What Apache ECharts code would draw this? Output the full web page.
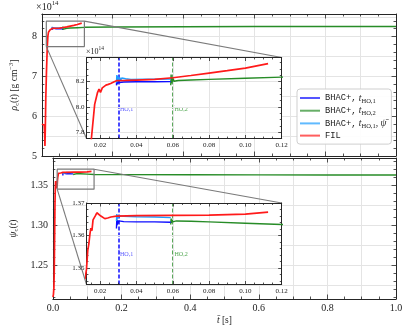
<!DOCTYPE html>
<html>
<head>
<meta charset="utf-8">
<script src="https://cdn.jsdelivr.net/npm/echarts@6/dist/echarts.min.js"></script>
<style>
html, body { margin: 0; padding: 0; background: #fff; }
#chart { width: 407px; height: 328px; }
</style>
</head>
<body>
<div id="chart"></div>
<script>
// ---------- data ----------
// FIL: central density (x1e14 g/cm^3) and psi_c
const filRhoT = [0, 0.004, 0.0065, 0.0078, 0.0086, 0.0095, 0.011, 0.013, 0.0152, 0.017, 0.0185, 0.0194, 0.0202, 0.0212, 0.0222, 0.0232, 0.0245, 0.0258, 0.0272, 0.029, 0.034, 0.04, 0.05, 0.06, 0.07, 0.08, 0.09, 0.10, 0.1125];
const filRho  = [5.80, 5.80, 5.78, 5.55, 5.25, 5.62, 6.45, 7.15, 7.75, 8.02, 8.11, 8.14, 8.115, 8.15, 8.14, 8.172, 8.178, 8.185, 8.195, 8.207, 8.209, 8.212, 8.217, 8.23, 8.248, 8.267, 8.286, 8.306, 8.342];
const filPsiT = [0, 0.0015, 0.003, 0.004, 0.005, 0.006, 0.007, 0.008, 0.0092, 0.0105, 0.0118, 0.0125, 0.0132, 0.0138, 0.0144, 0.0149, 0.0155, 0.0161, 0.0167, 0.0175, 0.0182, 0.019, 0.0204, 0.0215, 0.0226, 0.0242, 0.0259, 0.029, 0.04, 0.06, 0.08, 0.1, 0.1125];
const filPsi  = [1.210, 1.213, 1.222, 1.245, 1.285, 1.325, 1.347, 1.355, 1.352, 1.346, 1.347, 1.3497, 1.3555, 1.3575, 1.3605, 1.3623, 1.3615, 1.3648, 1.3654, 1.3662, 1.3670, 1.3667, 1.3660, 1.3655, 1.3652, 1.3654, 1.3657, 1.3660, 1.3661, 1.3662, 1.3663, 1.3666, 1.3672];

// BHAC+, t_HO,1
const b1RhoT = [0.029, 0.0292, 0.0294, 0.0296, 0.0299, 0.0302, 0.0307, 0.0315, 0.033, 0.04, 0.05, 0.0589];
const b1Rho  = [8.170, 8.228, 8.178, 8.215, 8.186, 8.208, 8.192, 8.202, 8.196, 8.198, 8.198, 8.199];
const b1PsiT = [0.029, 0.0292, 0.0294, 0.0296, 0.0299, 0.0303, 0.031, 0.033, 0.04, 0.05, 0.0589];
const b1Psi  = [1.3622, 1.3650, 1.3632, 1.3647, 1.3637, 1.3645, 1.3641, 1.3643, 1.3642, 1.3642, 1.3641];

// BHAC+, t_HO,1, psi-bar
const cyRhoT = [0.029, 0.0292, 0.0294, 0.0296, 0.0298, 0.0301, 0.0304, 0.0308, 0.0313, 0.0319, 0.0327, 0.034, 0.037, 0.045, 0.0589];
const cyRho  = [8.19, 8.252, 8.196, 8.245, 8.202, 8.238, 8.206, 8.232, 8.21, 8.228, 8.213, 8.222, 8.217, 8.218, 8.219];
const cyPsiT = [0.029, 0.0292, 0.0294, 0.0296, 0.0299, 0.0303, 0.031, 0.033, 0.04, 0.05, 0.0589];
const cyPsi  = [1.3645, 1.3666, 1.3651, 1.3663, 1.3654, 1.3661, 1.3656, 1.3659, 1.3658, 1.3657, 1.3655];

// BHAC+, t_HO,2
const b2RhoT = [0.0589, 0.0591, 0.0593, 0.0595, 0.0598, 0.0602, 0.0607, 0.0615, 0.063, 0.07, 0.08, 0.1, 0.12, 0.2, 0.4, 0.6, 0.8, 1.0];
const b2Rho  = [8.17, 8.255, 8.185, 8.235, 8.196, 8.224, 8.202, 8.215, 8.208, 8.212, 8.217, 8.226, 8.235, 8.242, 8.25, 8.255, 8.256, 8.257];
const b2PsiT = [0.0589, 0.0591, 0.0593, 0.0596, 0.06, 0.0605, 0.062, 0.07, 0.08, 0.1, 0.12, 0.2, 0.4, 0.6, 0.8, 1.0];
const b2Psi  = [1.3634, 1.3652, 1.3639, 1.3649, 1.3642, 1.3647, 1.3645, 1.3644, 1.3642, 1.3638, 1.3634, 1.3632, 1.3630, 1.3629, 1.3628, 1.3627];

// handover times (dashed lines in the insets)
const T_HO1 = 0.029, T_HO2 = 0.059;

// axis ranges [min, max, major step, minor divisions, grid step]
const mainX  = [0, 1, 0.2, 4, 0.1];
const rhoY   = [5, 8.57, 1, 5, 0.5];
const psiY   = [1.2075, 1.384, 0.05, 5, 0.025];
const insX   = [0.0125, 0.12, 0.02, 4, 0.02];
const insRho = [7.75, 8.39, 0.2, 4, 0.2];
const insPsi = [1.345, 1.37, 0.01, 5, 0.01];

// ---------- styling ----------
const SERIF = 'Liberation Serif', MONO = 'Liberation Mono';
const C = { blue: '#0d0dff', green: '#278c27', cyan: '#1c9dff', red: '#ff1a1a', frame: '#262626', grid: '#e4e4e4', box: '#7a7a7a' };

function rich(fs) {
  const lh = Math.round(fs * 1.35);
  const s = +(fs * 0.68).toFixed(1);
  return {
    rm: { fontFamily: SERIF, fontSize: fs, lineHeight: lh, verticalAlign: 'middle' },
    it: { fontFamily: SERIF, fontStyle: 'italic', fontSize: fs, lineHeight: lh, verticalAlign: 'middle' },
    tt: { fontFamily: MONO, fontSize: fs * 0.92, lineHeight: lh, verticalAlign: 'middle' },
    sub: { fontFamily: SERIF, fontSize: s, lineHeight: s, verticalAlign: 'bottom' },
    sup: { fontFamily: SERIF, fontSize: s, lineHeight: s, verticalAlign: 'top' }
  };
}

const isMult = (v, s) => Math.abs(v / s - Math.round(v / s)) < 1e-9;
const stepFor = (min, s) => isMult(min, s) ? { interval: s } : { minInterval: s, maxInterval: s };

const xAxes = [], yAxes = [];
// adds labelled axis + mirrored axis + grid-line axis; returns index of labelled one
function addAxes(list, kind, grid, r, o) {
  const [min, max, step, minor, gstep] = r;
  const common = { type: 'value', gridIndex: grid, min: min, max: max };
  const tickLine = { color: C.frame, width: 0.8 };
  const idx = list.length;
  const pos = kind === 'x' ? ['bottom', 'top'] : ['left', 'right'];
  [0, 1].forEach(function (k) {
    list.push(Object.assign({}, common, stepFor(min, step), {
      position: pos[k], z: o.z + 1,
      axisLine: { show: true, onZero: false, lineStyle: { color: C.frame, width: 1 } },
      axisTick: { show: true, inside: true, length: o.tick, lineStyle: tickLine },
      minorTick: { show: true, splitNumber: minor, length: o.tick * 0.55, lineStyle: tickLine },
      splitLine: { show: false },
      axisLabel: {
        show: k === 0 && o.labels !== false, margin: o.margin, fontFamily: SERIF, fontSize: o.font, color: '#222',
        formatter: function (v) { return v.toFixed(o.dec); },
        showMinLabel: !!o.showMin, showMaxLabel: !!o.showMax
      },
      name: k === 0 ? (o.name || '') : '',
      nameLocation: 'middle', nameGap: o.nameGap || 0,
      nameTextStyle: { color: '#222', rich: rich(o.nameFont || 10) }
    }));
  });
  list.push(Object.assign({}, common, stepFor(min, gstep), {
    position: pos[0], z: o.z,
    axisLine: { show: false }, axisTick: { show: false }, axisLabel: { show: false },
    splitLine: { show: true, lineStyle: { color: C.grid, width: 1 } }
  }));
  return idx;
}

const grids = [
  { left: 36, top: 14, width: 360, height: 142 },
  { left: 36, top: 158, width: 360, height: 141 },
  { left: 86.5, top: 57.5, width: 195.2, height: 81, show: true, backgroundColor: '#fff', borderWidth: 0, z: 5 },
  { left: 86.5, top: 203, width: 195.2, height: 81.5, show: true, backgroundColor: '#fff', borderWidth: 0, z: 5 }
];

const ax = {};
ax.x0 = addAxes(xAxes, 'x', 0, mainX, { z: 0, tick: 4.5, labels: false, dec: 1 });
ax.y0 = addAxes(yAxes, 'y', 0, rhoY, { z: 0, tick: 4.5, margin: 5, font: 10, dec: 0, showMin: true,
  name: '{it|ρ}{sub|c}{rm|(}{it|t}{rm|) [g cm}{sup|−3}{rm|]}', nameGap: 14, nameFont: 9.5 });
ax.x1 = addAxes(xAxes, 'x', 1, mainX, { z: 0, tick: 4.5, margin: 4, font: 10, dec: 1, showMin: true, showMax: true,
  name: '{it|t̄}{rm| [s]}', nameGap: 15, nameFont: 9.5 });
ax.y1 = addAxes(yAxes, 'y', 1, psiY, { z: 0, tick: 4.5, margin: 5, font: 10, dec: 2,
  name: '{it|ψ}{sub|c}{rm|(}{it|t}{rm|)}', nameGap: 25, nameFont: 9.5 });
ax.x2 = addAxes(xAxes, 'x', 2, insX, { z: 6, tick: 3.5, margin: 3, font: 7, dec: 2, showMax: true });
ax.y2 = addAxes(yAxes, 'y', 2, insRho, { z: 6, tick: 3.5, margin: 2, font: 7, dec: 1 });
ax.x3 = addAxes(xAxes, 'x', 3, insX, { z: 6, tick: 3.5, margin: 3, font: 7, dec: 2, showMax: true });
ax.y3 = addAxes(yAxes, 'y', 3, insPsi, { z: 6, tick: 3.5, margin: 2, font: 7, dec: 2, showMax: true });

const zip = (t, v) => t.map((x, i) => [x, v[i]]);

function line(name, color, xi, yi, data, z, w) {
  return {
    type: 'line', name: name, color: color, xAxisIndex: xi, yAxisIndex: yi, data: data,
    showSymbol: false, symbol: 'none', z: z, silent: true,
    lineStyle: { color: color, width: w || 1.4 }
  };
}

function panelSeries(xi, yi, z, sets) {
  return sets.map(function (s) { return line(s[0], s[1], xi, yi, s[2], z, s[3]); });
}

const rhoSets = [
  ['b2', C.green, zip(b2RhoT, b2Rho)],
  ['b1', C.blue, zip(b1RhoT, b1Rho)],
  ['b1psi', C.cyan, zip(cyRhoT, cyRho)],
  ['fil', C.red, zip(filRhoT, filRho), 1.7]
];
const psiSets = [
  ['b2', C.green, zip(b2PsiT, b2Psi)],
  ['b1', C.blue, zip(b1PsiT, b1Psi)],
  ['b1psi', C.cyan, zip(cyPsiT, cyPsi)],
  ['fil', C.red, zip(filPsiT, filPsi), 1.7]
];

function rectData(rx, ry) {
  return [[rx[0], ry[0]], [rx[1], ry[0]], [rx[1], ry[1]], [rx[0], ry[1]], [rx[0], ry[0]]];
}

function handover(yLab, xi, yi) {
  return {
    type: 'line', xAxisIndex: xi, yAxisIndex: yi, data: [], z: 9, silent: true,
    markLine: {
      silent: true, symbol: ['none', 'none'], label: { show: false },
      data: [
        { xAxis: T_HO1, lineStyle: { color: C.blue, type: [4, 2], width: 1.5 } },
        { xAxis: T_HO2, lineStyle: { color: C.green, type: [4, 2], width: 1.5 } }
      ]
    },
    markPoint: {
      symbol: 'circle', symbolSize: 0, silent: true,
      label: { show: true, position: 'right', distance: 1, fontFamily: SERIF, fontSize: 9, rich: rich(9) },
      data: [
        { coord: [T_HO1, yLab], label: { formatter: '{it|t}{sub|HO,1}', color: '#5a5aff' } },
        { coord: [T_HO2, yLab], label: { formatter: '{it|t}{sub|HO,2}', color: '#4ea64e' } }
      ]
    }
  };
}

const hoTop = handover(8.0, ax.x2, ax.y2);
const hoBot = handover(1.3552, ax.x3, ax.y3);

const series = [].concat(
  panelSeries(ax.x0, ax.y0, 2, rhoSets),
  panelSeries(ax.x1, ax.y1, 2, psiSets),
  [
    Object.assign(line('box0', C.box, ax.x0, ax.y0, rectData(insX, insRho), 3, 1.2), { clip: false }),
    Object.assign(line('box1', C.box, ax.x1, ax.y1, rectData(insX, insPsi), 3, 1.2), { clip: false })
  ],
  panelSeries(ax.x2, ax.y2, 8, rhoSets),
  panelSeries(ax.x3, ax.y3, 8, psiSets),
  [hoTop, hoBot]
);

const legendText = {
  b1: '{tt|BHAC+,} {it|t}{sub|HO,1}',
  b2: '{tt|BHAC+,} {it|t}{sub|HO,2}',
  b1psi: '{tt|BHAC+,} {it|t}{sub|HO,1}{rm|, }{it|ψ̄}',
  fil: '{tt|FIL}'
};

const chart = echarts.init(document.getElementById('chart'));
chart.setOption({
  animation: false,
  backgroundColor: '#fff',
  grid: grids,
  xAxis: xAxes,
  yAxis: yAxes,
  legend: {
    orient: 'vertical', left: 297, top: 89, z: 20,
    data: ['b1', 'b2', 'b1psi', 'fil'],
    icon: 'rect', itemWidth: 20, itemHeight: 2, itemGap: 1.2,
    backgroundColor: 'rgba(255,255,255,0.9)', borderColor: '#cfcfcf', borderWidth: 1, borderRadius: 3,
    padding: [4, 5, 4, 3], selectedMode: false,
    itemStyle: { opacity: 0.7 },
    textStyle: { color: '#222', fontFamily: SERIF, fontSize: 9.5, rich: rich(9.5) },
    formatter: function (n) { return legendText[n]; }
  },
  series: series
});

// connector lines from the zoom boxes to the insets, placed through the axes
function px(xi, yi, p) { return chart.convertToPixel({ xAxisIndex: xi, yAxisIndex: yi }, p); }
function connectors(xm, ym, xi, yi, ry) {
  const a = px(xm, ym, [insX[1], ry[1]]), b = px(xi, yi, [insX[1], ry[1]]);
  const c = px(xm, ym, [insX[0], ry[0]]), d = px(xi, yi, [insX[0], ry[0]]);
  return [[a, b], [c, d]].map(function (s) {
    return { type: 'line', z: 4, silent: true,
      shape: { x1: s[0][0], y1: s[0][1], x2: s[1][0], y2: s[1][1] },
      style: { stroke: C.box, lineWidth: 1.1 } };
  });
}
const sci = function (x, y, fs) {
  return { type: 'text', x: x, y: y, z: 10, silent: true,
    style: { text: '{rm|×10}{sup|14}', fill: '#222', rich: rich(fs) } };
};
chart.setOption({
  graphic: [].concat(
    connectors(ax.x0, ax.y0, ax.x2, ax.y2, insRho),
    connectors(ax.x1, ax.y1, ax.x3, ax.y3, insPsi),
    [sci(36, 0, 10), sci(86, 46, 8)]
  )
});
</script>
</body>
</html>
